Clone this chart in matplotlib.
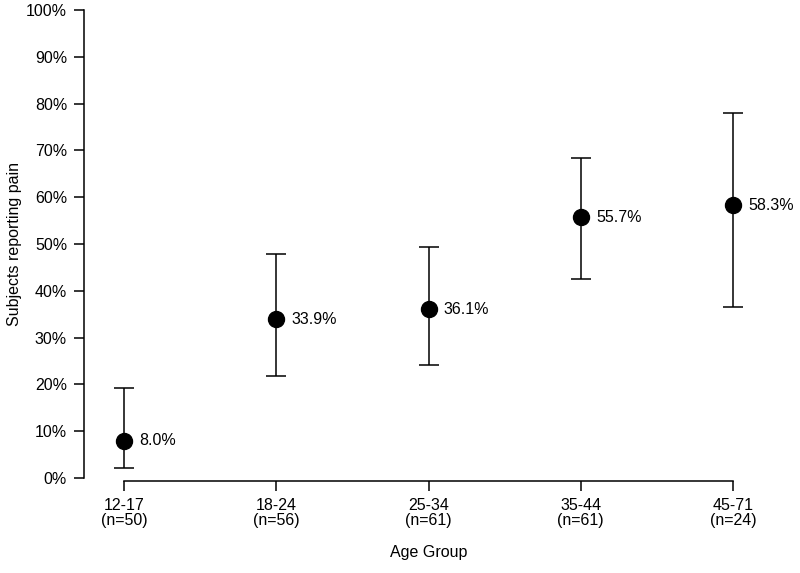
import matplotlib
matplotlib.use('Agg')
import matplotlib.pyplot as plt

# Données
groupes_age = ['12-17', '18-24', '25-34', '35-44', '45-71']
effectifs = [50, 56, 61, 61, 24]
pourcentages = [8.0, 33.9, 36.1, 55.7, 58.3]
ic_bas = [2.2, 21.8, 24.2, 42.5, 36.6]
ic_haut = [19.2, 47.8, 49.3, 68.4, 77.9]

plt.rcParams['font.family'] = ['Liberation Sans', 'DejaVu Sans']
TAILLE = 11.5

fig = plt.figure(figsize=(8, 5.73), dpi=100)
ax = fig.add_axes([84 / 800, 92 / 573, (773 - 84) / 800, (481 - 8) / 573])

positions = list(range(1, len(groupes_age) + 1))
err_bas = [p - b for p, b in zip(pourcentages, ic_bas)]
err_haut = [h - p for p, h in zip(pourcentages, ic_haut)]

ax.errorbar(positions, pourcentages, yerr=[err_bas, err_haut], fmt='o',
            color='k', markersize=11.5, elinewidth=1.1, capsize=7,
            capthick=1.1)

# Étiquettes des valeurs
for x, p in zip(positions, pourcentages):
    ax.annotate(f'{p:.1f}%', (x, p), xytext=(11, 0),
                textcoords='offset points', va='center', ha='left',
                fontsize=TAILLE)

# Axes
ax.set_xlim(0.737, 5.263)
ax.set_ylim(-0.64, 100.43)

ax.spines['top'].set_visible(False)
ax.spines['right'].set_visible(False)
ax.spines['left'].set_bounds(0, 100)
ax.spines['bottom'].set_bounds(1, 5)
for s in ('left', 'bottom'):
    ax.spines[s].set_linewidth(1.1)

ax.set_yticks(range(0, 101, 10))
ax.set_yticklabels([f'{v}%' for v in range(0, 101, 10)])
ax.set_xticks(positions)
ax.set_xticklabels([f'{g}\n(n={n})' for g, n in zip(groupes_age, effectifs)],
                   linespacing=1.0)
ax.tick_params(axis='both', length=7.2, width=1.1, labelsize=TAILLE, pad=5)

ax.set_xlabel('Age Group', fontsize=TAILLE, labelpad=12)
ax.set_ylabel('Subjects reporting pain', fontsize=TAILLE, labelpad=3)

fig.savefig('out.png', dpi=100)
